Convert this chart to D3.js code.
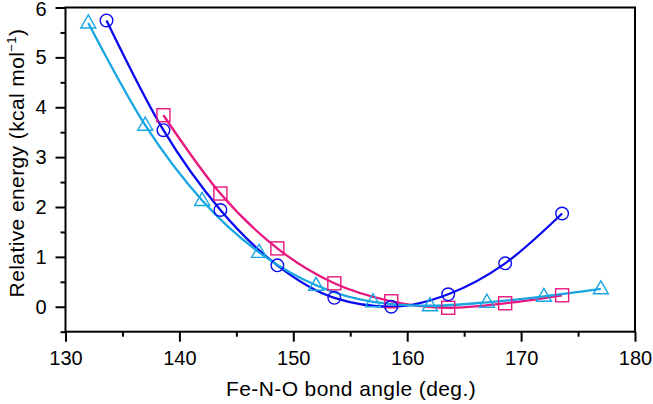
<!DOCTYPE html>
<html><head><meta charset="utf-8">
<script src="https://cdn.jsdelivr.net/npm/d3@7/dist/d3.min.js"></script>
<style>body{margin:0;background:#fff}svg{display:block}text{font-family:"Liberation Sans",Arial,sans-serif}</style>
</head><body>
<script>
// Data
const circleX = [133.6, 138.6, 143.6, 148.6, 153.6, 158.6, 163.6, 168.6, 173.6];
const circleY = [5.74, 3.54, 1.94, 0.83, 0.18, 0.0, 0.25, 0.87, 1.87];
const squareX = [138.6, 143.6, 148.6, 153.6, 158.6, 163.6, 168.6, 173.6];
const squareY = [3.84, 2.27, 1.17, 0.47, 0.11, -0.02, 0.07, 0.23];
const triX = [132, 137, 142, 147, 152, 157, 162, 167, 172, 177];
const triY = [5.69, 3.64, 2.13, 1.09, 0.43, 0.1, 0.02, 0.09, 0.21, 0.36];
const xTicks = [130, 140, 150, 160, 170, 180];
const yTicks = [0, 1, 2, 3, 4, 5, 6];
const xLabel = "Fe-N-O bond angle (deg.)";
const yLabel = "Relative energy (kcal mol";

const W = 653, H = 404;
const L = 65.5, R = 635, T = 7.5, B = 331.7;
const svg = d3.select("body").append("svg").attr("width", W).attr("height", H);
const x = d3.scaleLinear().domain([130, 180]).range([L, R]);
const y = d3.scaleLinear().domain([-0.5, 6]).range([B, T]);

const cBlue = "#0a0af0", cMag = "#e8167f", cCyan = "#18a6e2";

// frame
svg.append("rect").attr("x", L).attr("y", T).attr("width", R - L).attr("height", B - T)
  .attr("fill", "none").attr("stroke", "#000").attr("stroke-width", 2);

// axes
svg.append("g").attr("transform", `translate(0,${B})`)
  .call(d3.axisBottom(x).tickValues(xTicks).tickSize(10).tickPadding(9).tickFormat(d3.format("d")));
svg.append("g").attr("transform", `translate(0,${B})`)
  .call(d3.axisBottom(x).tickValues([135,145,155,165,175]).tickSize(5).tickFormat(""));
const yAx = svg.append("g").attr("transform", `translate(${L},0)`)
  .call(d3.axisLeft(y).tickValues(yTicks).tickSize(10).tickPadding(9).tickFormat(d3.format("d")));
svg.append("g").attr("transform", `translate(${L},0)`)
  .call(d3.axisLeft(y).tickValues([-0.5,0.5,1.5,2.5,3.5,4.5,5.5]).tickSize(5).tickFormat(""));
svg.selectAll(".domain").remove();
svg.selectAll(".tick line").attr("stroke", "#000").attr("stroke-width", 2);
svg.selectAll(".tick text").attr("font-size", 20).attr("fill", "#000")
  .style("font-family", '"Liberation Sans",Arial,sans-serif');
// keep the top label inside the picture
yAx.selectAll(".tick text").filter(d => d === 6).attr("y", 1.5);

// titles
svg.append("text").attr("x", 351).attr("y", 396).attr("text-anchor", "middle")
  .attr("font-size", 21).attr("letter-spacing", 0.4).text(xLabel);
const yt = svg.append("text").attr("transform", `translate(24,163) rotate(-90)`)
  .attr("text-anchor", "middle").attr("font-size", 21).attr("letter-spacing", 0.4);
yt.append("tspan").text(yLabel);
yt.append("tspan").attr("dy", -8).attr("font-size", 13).text("\u22121");
yt.append("tspan").attr("dy", 8).text(")");

const line = d3.line().x(d => x(d[0])).y(d => y(d[1])).curve(d3.curveMonotoneX);
function series(xs, ys, color) {
  const pts = xs.map((v, i) => [v, ys[i]]);
  svg.append("path").datum(pts).attr("d", line).attr("fill", "none")
    .attr("stroke", color).attr("stroke-width", 2.3).attr("stroke-linejoin", "round");
  return pts;
}
const pm = series(squareX, squareY, cMag);
const pb = series(circleX, circleY, cBlue);
const pc = series(triX, triY, cCyan);

svg.append("g").selectAll("rect").data(pm).join("rect")
  .attr("x", d => x(d[0]) - 6.5).attr("y", d => y(d[1]) - 6.5).attr("width", 13).attr("height", 13)
  .attr("fill", "none").attr("stroke", cMag).attr("stroke-width", 1.4);
svg.append("g").selectAll("circle").data(pb).join("circle")
  .attr("cx", d => x(d[0])).attr("cy", d => y(d[1])).attr("r", 6.3)
  .attr("fill", "none").attr("stroke", cBlue).attr("stroke-width", 1.4);
svg.append("g").selectAll("path").data(pc).join("path")
  .attr("transform", d => `translate(${x(d[0])},${y(d[1])})`)
  .attr("d", "M0,-8L7.5,5L-7.5,5Z")
  .attr("fill", "none").attr("stroke", cCyan).attr("stroke-width", 1.4);
</script>
</body></html>
